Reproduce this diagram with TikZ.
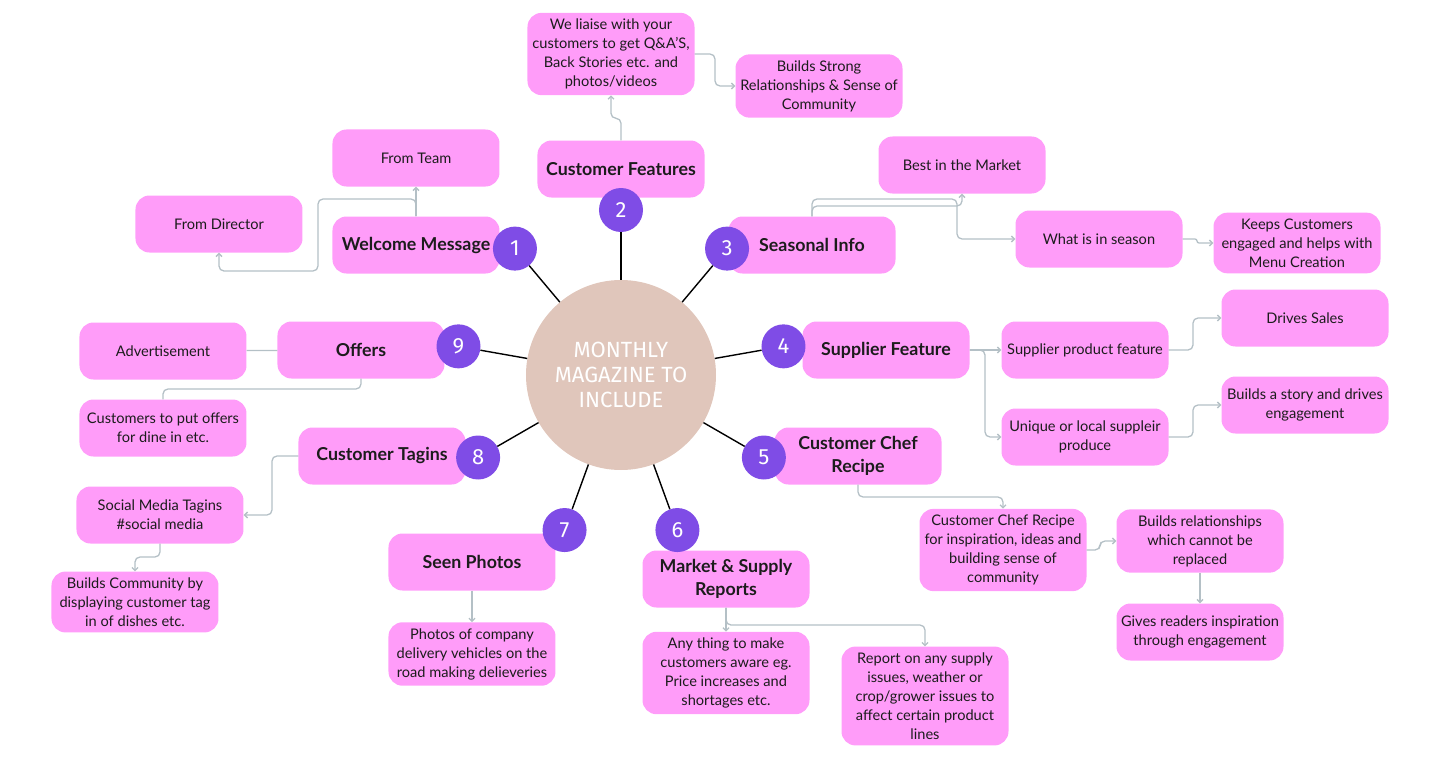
\documentclass[tikz,border=0pt]{standalone}
\usepackage{fontspec}
\setmainfont{Lato}
\newfontfamily\numfont{Fira Sans}
\usetikzlibrary{arrows.meta}
\definecolor{boxpink}{RGB}{255,156,249}
\definecolor{dotpurple}{RGB}{127,76,230}
\definecolor{hubtan}{RGB}{224,198,187}
\definecolor{linkgrey}{RGB}{180,192,198}
\definecolor{inkdark}{RGB}{28,28,28}
\tikzset{
  topic/.style={rounded corners=14pt, fill=boxpink, text=inkdark,
    minimum width=167pt, minimum height=57pt, inner xsep=3pt, inner ysep=6pt,
    align=center, font=\fontsize{17.8}{23}\selectfont\bfseries},
  detail/.style={topic, font=\fontsize{14.6}{19}\selectfont},
  numdot/.style={circle, fill=dotpurple, text=white, minimum size=44pt,
    inner sep=0pt, font=\numfont\fontsize{22}{22}\selectfont},
  hub/.style={circle, fill=hubtan, text=white, minimum size=190pt,
    align=center, font=\numfont\fontsize{22}{25}\selectfont},
  link/.style={draw=linkgrey, line width=1.3pt, rounded corners=5pt,
    -{Straight Barb[length=3pt,width=6pt]}},
}
\begin{document}
\begin{tikzpicture}[x=1pt,y=1pt]
  \useasboundingbox (-621,375) rectangle (819,-386);
  % main topics
  \node[topic] (welcome) at (-205,130) {Welcome Message};
  \node[topic] (features) at (0,206) {Customer Features};
  \node[topic] (seasonal) at (191,130) {Seasonal Info};
  \node[topic] (supplier) at (265,25) {Supplier Feature};
  \node[topic] (chef) at (237,-81) {Customer Chef\\Recipe};
  \node[topic] (market) at (105,-204) {Market \& Supply\\Reports};
  \node[topic] (photos) at (-149,-187) {Seen Photos};
  \node[topic] (tagins) at (-239,-81) {Customer Tagins};
  \node[topic] (offers) at (-260,25) {Offers};
  % details
  \node[detail] (team) at (-205,217) {From Team};
  \node[detail] (director) at (-402,151) {From Director};
  \node[detail] (liaise) at (-10,321) {We liaise with your\\customers to get Q\&A'S,\\Back Stories etc. and\\photos/videos};
  \node[detail] (strong) at (198,289) {Builds Strong\\Relationships \& Sense of\\Community};
  \node[detail] (best) at (341,210) {Best in the Market};
  \node[detail] (inseason) at (478,136) {What is in season};
  \node[detail] (keeps) at (676,132) {Keeps Customers\\engaged and helps with\\Menu Creation};
  \node[detail] (product) at (464,25) {Supplier product feature};
  \node[detail] (sales) at (684,57) {Drives Sales};
  \node[detail] (unique) at (464,-62) {Unique or local suppleir\\produce};
  \node[detail] (story) at (684,-30) {Builds a story and drives\\engagement};
  \node[detail] (recipe) at (382,-175) {Customer Chef Recipe\\for inspiration, ideas and\\building sense of\\community};
  \node[detail] (cannot) at (579,-166) {Builds relationships\\which cannot be\\replaced};
  \node[detail] (gives) at (579,-257) {Gives readers inspiration\\through engagement};
  \node[detail] (anything) at (105,-298) {Any thing to make\\customers aware eg.\\Price increases and\\shortages etc.};
  \node[detail] (report) at (304,-321) {Report on any supply\\issues, weather or\\crop/grower issues to\\affect certain product\\lines};
  \node[detail] (vehicles) at (-149,-279) {Photos of company\\delivery vehicles on the\\road making delieveries};
  \node[detail] (advert) at (-458,24) {Advertisement};
  \node[detail] (dinein) at (-458,-53) {Customers to put offers\\for dine in etc.};
  \node[detail] (social) at (-461,-140) {Social Media Tagins\\\#social media};
  \node[detail] (community) at (-486,-227) {Builds Community by\\displaying customer tag\\in of dishes etc.};
  % hub and numbers
  \node[hub] (hub) at (0,0) {MONTHLY\\MAGAZINE TO\\INCLUDE};
  \draw
    (130:165) node[numdot] (1){1}
    (90:165) node[numdot] (2){2}
    (50:165) node[numdot] (3){3}
    (10:165) node[numdot] (4){4}
    (-30:165) node[numdot] (5){5}
    (-70:165) node[numdot] (6){6}
    (-110:165) node[numdot] (7){7}
    (-150:165) node[numdot] (8){8}
    (170:165) node[numdot] (9){9};
  \begin{scope}[line width=1.4pt]
    \draw (hub) to (1);
    \draw (hub) to (2);
    \draw (hub) to (3);
    \draw (hub) to (4);
    \draw (hub) to (5);
    \draw (hub) to (6);
    \draw (hub) to (7);
    \draw (hub) to (8);
    \draw (hub) to (9);
  \end{scope}
  % connectors
  \begin{scope}[link]
    \draw (welcome) -- (team);
    \draw (welcome.north) |- (-303,176) |- (-402,104) -- (director.south);
    \draw (features.north) -- ++(0,22) -| (liaise.south);
    \draw (liaise.east) -- (94,321) |- (strong.west);
    \draw (seasonal.north) |- (341,169) -- (best.south);
    \draw (seasonal.north) |- (336,176) |- (inseason.west);
    \draw[rounded corners=2pt] (inseason.east) -- (576,136) |- (keeps.west);
    \draw (supplier) -- (product);
    \draw (supplier.east) -- (364,25) |- (unique.west);
    \draw (product.east) -- (572,25) |- (sales.west);
    \draw (unique.east) -- (572,-62) |- (story.west);
    \draw (chef.south) |- (382,-122) -- (recipe.north);
    \draw (recipe.east) -- (479,-175) |- (cannot.west);
    \draw (cannot) -- (gives);
    \draw (market) -- (anything);
    \draw (market.south) |- (304,-250) -- (report.north);
    \draw (photos) -- (vehicles);
    \draw[-] (advert) -- (offers);
    \draw[-] (offers.south) |- (-458,-14) -- (dinein.north);
    \draw (tagins.west) -- (-349,-81) |- (social.east);
    \draw (social.south) |- (-486,-182) -- (community.north);
  \end{scope}
\end{tikzpicture}
\end{document}
